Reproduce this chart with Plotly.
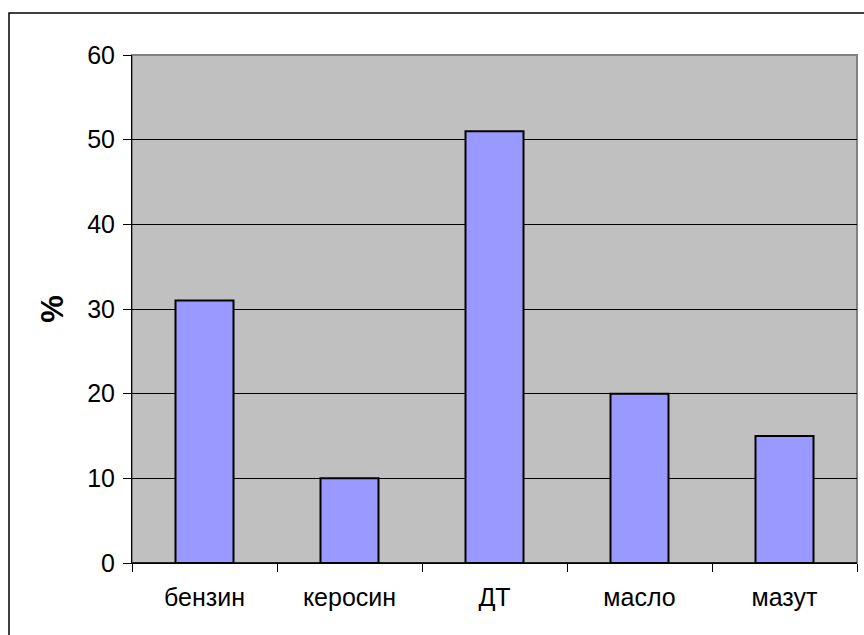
import plotly.graph_objects as go

# Fraction yields, %
categories = ["бензин", "керосин", "ДТ", "масло", "мазут"]
values = [31, 10, 51, 20, 15]
y_ticks = [0, 10, 20, 30, 40, 50, 60]

W, H = 864, 635
L, R, T, B = 132, 7, 55, 72
pw, ph = W - L - R, H - T - B

def px_x(x):
    return (x - L) / pw

def px_y(y):
    return (H - B - y) / ph

font = dict(family="Liberation Sans, Arial, sans-serif", size=25, color="black")

fig = go.Figure(
    go.Bar(
        x=categories,
        y=values,
        marker=dict(color="#9999FF", line=dict(color="black", width=2)),
        width=0.4,
    )
)

fig.update_layout(
    width=W,
    height=H,
    margin=dict(l=L, r=R, t=T, b=B),
    paper_bgcolor="white",
    plot_bgcolor="#C0C0C0",
    font=font,
    showlegend=False,
    bargap=0.6,
)

fig.update_xaxes(
    type="category",
    tickson="boundaries",
    ticks="outside",
    ticklen=8,
    tickcolor="black",
    showline=True,
    linecolor="black",
    linewidth=1,
    showgrid=False,
    tickfont=font,
    ticklabelstandoff=12,
)

fig.update_yaxes(
    range=[0, 60],
    tickvals=y_ticks,
    ticks="outside",
    ticklen=8,
    tickcolor="black",
    showline=True,
    linecolor="black",
    linewidth=1,
    showgrid=True,
    gridcolor="black",
    gridwidth=1,
    zeroline=False,
    tickfont=font,
    ticklabelstandoff=3,
    title=dict(text="<b>%</b>", font=dict(family=font["family"], size=31, color="black"), standoff=14),
)

# plot-area border (top and right sides in gray)
fig.add_shape(
    type="rect", xref="paper", yref="paper",
    x0=0, x1=1, y0=0, y1=1,
    line=dict(color="#808080", width=2),
    fillcolor="rgba(0,0,0,0)", layer="below",
)
# redraw black axis line over the gray border
fig.add_shape(type="line", xref="paper", yref="paper", x0=0, x1=1, y0=0, y1=0,
              line=dict(color="black", width=1.5))

# outer chart frame
fig.add_shape(
    type="rect", xref="paper", yref="paper",
    x0=px_x(9), x1=px_x(W + 10), y0=px_y(H + 10), y1=px_y(13),
    line=dict(color="black", width=1.5),
    fillcolor="rgba(0,0,0,0)",
)

fig.write_html("out.html")
